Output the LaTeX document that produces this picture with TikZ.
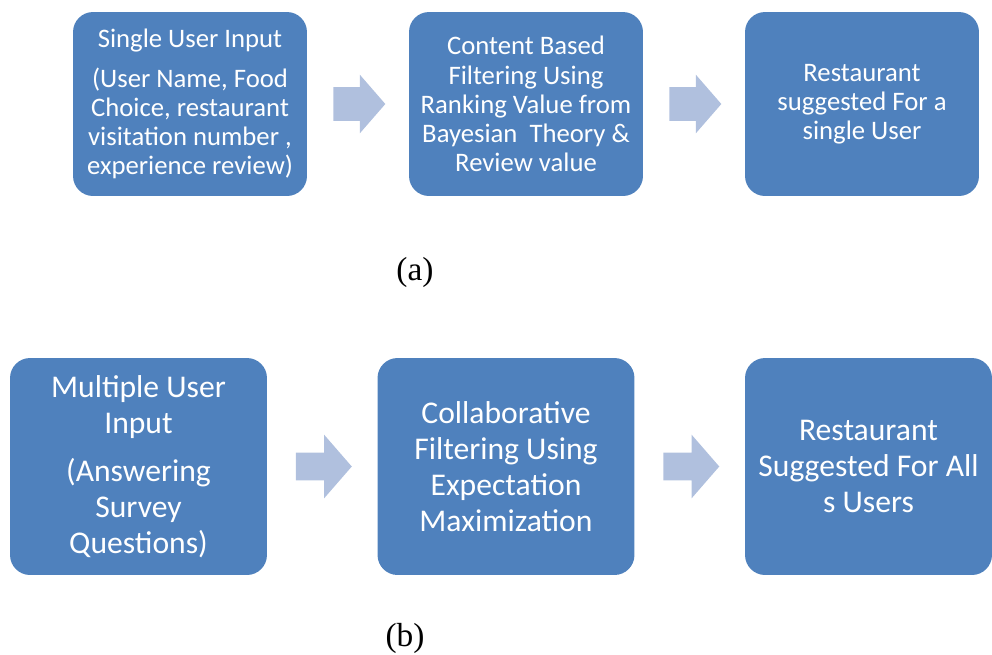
\documentclass[tikz,border=0pt]{standalone}
\usepackage{fontspec}
\setmainfont{Carlito}
\newfontfamily\capfont{Liberation Serif}
\usetikzlibrary{shapes.arrows}
\definecolor{boxblue}{RGB}{79,129,189}
\definecolor{arrowblue}{RGB}{176,192,222}

\tikzset{
  stepbox/.style={fill=boxblue, rounded corners=0.4cm, text=white, align=center, inner sep=0pt},
  smallbox/.style={stepbox, minimum width=4.68cm, minimum height=3.68cm, font=\fontsize{15.2}{16.6}\selectfont},
  bigbox/.style={stepbox, minimum width=5.14cm, minimum height=4.34cm, font=\fontsize{18}{20.4}\selectfont},
  blockarrow/.style={single arrow, fill=arrowblue, inner sep=0pt, single arrow tip angle=98},
  smallarrow/.style={blockarrow, minimum height=1.04cm, single arrow head extend=0.25cm, xshift=-0.12cm},
  bigarrow/.style={blockarrow, minimum height=1.12cm, single arrow head extend=0.36cm, xshift=-0.09cm},
  caption/.style={font=\capfont\fontsize{19}{21}\selectfont}
}
% invisible strut that sets the shaft width of a block arrow
\newcommand{\shaft}[2]{\rule[-#1]{0pt}{#2}}

\begin{document}
\begin{tikzpicture}[x=0.02cm, y=-0.02cm]
\useasboundingbox (0,0) rectangle (992,654);

% (a) single user
\node[smallbox] (single) at (190,104) {Single User Input\\[0.22cm](User Name, Food\\Choice, restaurant\\visitation number ,\\experience review)};
\node[smallbox] (content) at (526,104) {Content Based\\Filtering Using\\Ranking Value from\\Bayesian\ \ Theory \&\\Review value};
\node[smallbox] (single-out) at (862,104) {Restaurant\\suggested For a\\single User};
\path (single) -- (content) node[midway, smallarrow] (ar1) {\shaft{0.33cm}{0.66cm}};
\path (content) -- (single-out) node[midway, smallarrow] (ar2) {\shaft{0.33cm}{0.66cm}};
\node[caption] (cap-a) at (415,272) {(a)};

% (b) multiple users
\node[bigbox] (multi) at (138.5,466.5) {Multiple User\\Input\\[0.25cm](Answering\\Survey\\Questions)};
\node[bigbox] (collab) at (506,466.5) {Collaborative\\Filtering Using\\Expectation\\Maximization};
\node[bigbox, minimum width=4.94cm] (multi-out) at (868.5,466.5) {Restaurant\\Suggested For All\\s Users};
\path (multi) -- (collab) node[midway, bigarrow] (ar3) {\shaft{0.27cm}{0.54cm}};
\path (collab) -- (multi-out) node[midway, bigarrow] (ar4) {\shaft{0.27cm}{0.54cm}};
\node[caption] (cap-b) at (405,638) {(b)};
\end{tikzpicture}
\end{document}
